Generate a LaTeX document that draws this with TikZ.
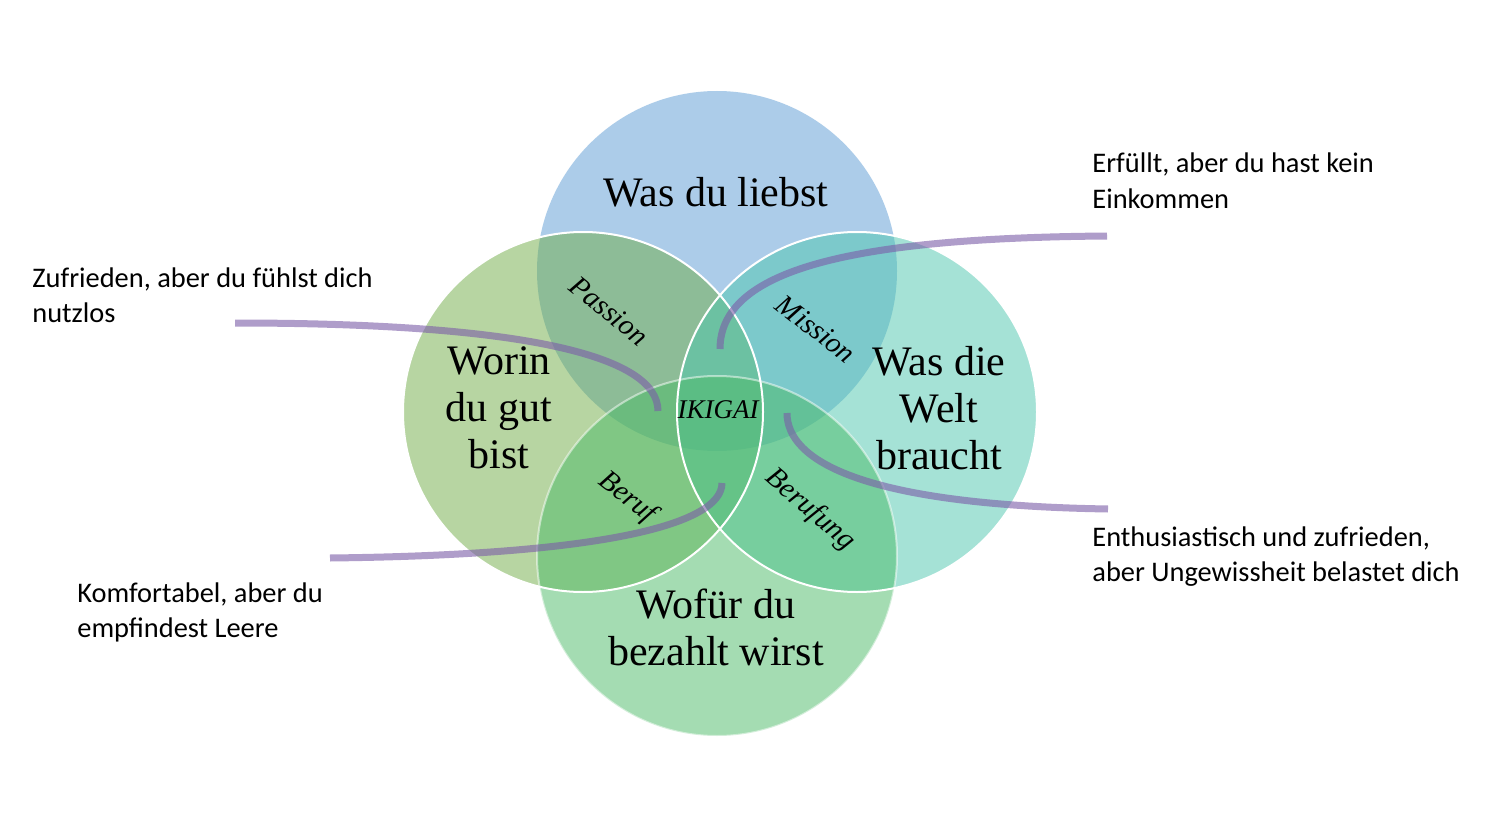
\documentclass[tikz,border=0pt]{standalone}
\usepackage{fontspec}
\setmainfont{Liberation Serif}
\newfontfamily\notefont{Carlito}
\definecolor{cblue}{HTML}{5B9BD5}
\definecolor{colive}{HTML}{70AD47}
\definecolor{cteal}{HTML}{4DC7AE}
\definecolor{cgreen}{HTML}{4BBB67}
\definecolor{leadpurple}{HTML}{7B5CA8}
\begin{document}
\begin{tikzpicture}[x=0.5pt,y=-0.5pt,
  circ/.style={circle, minimum size=180pt, inner sep=0pt, fill opacity=0.5, draw=none},
  ring/.style={draw=white, line width=1pt},
  bigtxt/.style={font=\fontsize{21}{23.5}\selectfont, align=center, text=black, inner sep=0pt},
  smalltxt/.style={font=\itshape\fontsize{14.5}{16}\selectfont, text=black, inner sep=0pt},
  note/.style={font=\notefont\fontsize{14.2}{17.5}\selectfont, align=left, anchor=base west, inner sep=0pt, text=black},
  lead/.style={draw=leadpurple, draw opacity=0.6, line width=3.5pt}]
\fill[white] (0,0) rectangle (1500,829);
\useasboundingbox (0,0) rectangle (1500,829);
% circles
\node[circ, fill=cblue]  (love)  at (717,271) {};
\node[circ, fill=colive] (good)  at (583,412) {};
\node[circ, fill=cteal]  (world) at (857,412) {};
\node[circ, fill=cgreen] (paid)  at (717,556) {};
% outlines
\draw[ring] (good.center) circle[radius=90pt];
\draw[ring] (world.center) circle[radius=90pt];
\draw[ring, draw opacity=0.5] (paid.center) circle[radius=90pt];
% leader line ends
\coordinate (z1) at (235,323);
\coordinate (z2) at (658,411);
\coordinate (e1) at (1107,236);
\coordinate (e2) at (720,349);
\coordinate (n1) at (1108,509);
\coordinate (n2) at (787,413);
\coordinate (k1) at (330,558);
\coordinate (k2) at (722,483);
\draw[lead] (z1) .. controls (520,323) and (658,355) .. (z2);
\draw[lead] (e1) .. controls (850,238) and (720,270) .. (e2);
\draw[lead] (n1) .. controls (860,505) and (787,460) .. (n2);
\draw[lead] (k1) .. controls (600,555) and (722,525) .. (k2);
% circle labels
\node[bigtxt] (tlove)  at (716,192) {Was du liebst};
\node[bigtxt] (tgood)  at (499,408) {Worin\\du gut\\bist};
\node[bigtxt] (tworld) at (939,408) {Was die\\Welt\\braucht};
\node[bigtxt] (tpaid)  at (716,627) {Wofür du\\bezahlt wirst};
% overlap labels
\node[smalltxt, rotate=-39] (passion)  at (609,311) {Passion};
\node[smalltxt, rotate=-38] (mission)  at (816,329) {Mission};
\node[smalltxt, rotate=-38] (beruf)    at (627,498) {Beruf};
\node[smalltxt, rotate=-41] (berufung) at (810,510) {Berufung};
\node[smalltxt, font=\itshape\fontsize{13.5}{15}\selectfont] (ikigai) at (718,410) {IKIGAI};
% notes
\node[note] (nz) at (32,322) {Zufrieden, aber du fühlst dich\\nutzlos};
\node[note] (ne) at (1092,208) {Erfüllt, aber du hast kein\\Einkommen};
\node[note] (nn) at (1092,581) {Enthusiastisch und zufrieden,\\aber Ungewissheit belastet dich};
\node[note] (nk) at (77,637) {Komfortabel, aber du\\empfindest Leere};
\end{tikzpicture}
\end{document}
